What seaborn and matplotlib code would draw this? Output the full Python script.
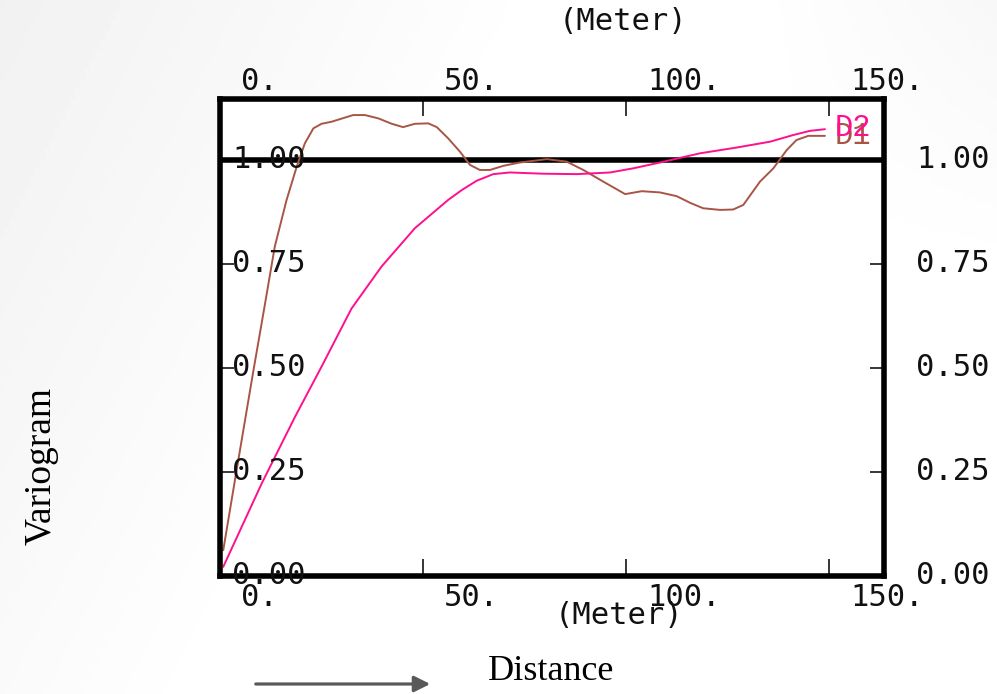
"""Variogram D1 / D2 versus distance, redrawn with seaborn."""
import matplotlib
matplotlib.use("Agg")
import matplotlib.pyplot as plt
import matplotlib.transforms as mtrans
import seaborn as sns
import numpy as np
import pandas as pd

# distance (m) and variogram values
d1_dist = [0.8, 4.1, 8.2, 11.1, 13.5, 16.4, 18.9, 20.9, 23.0, 25.0, 27.5, 32.8, 35.7,
           39.0, 42.3, 45.1, 48.0, 51.3, 53.4, 56.2, 59.1, 61.6, 64.0, 66.5, 69.8,
           73.9, 80.5, 85.4, 89.5, 94.4, 99.8, 103.9, 108.4, 112.5, 115.8, 119.0,
           123.2, 126.4, 128.9, 133.0, 136.3, 139.6, 142.0, 144.9, 149.0]
d1_gamma = [0.062, 0.255, 0.492, 0.655, 0.792, 0.904, 0.984, 1.040, 1.076, 1.087,
            1.092, 1.108, 1.108, 1.100, 1.087, 1.079, 1.087, 1.088, 1.079, 1.052,
            1.020, 0.988, 0.976, 0.976, 0.986, 0.994, 1.002, 0.996, 0.976, 0.948,
            0.918, 0.925, 0.922, 0.913, 0.897, 0.884, 0.880, 0.881, 0.892, 0.948,
            0.980, 1.024, 1.048, 1.058, 1.058]

d2_dist = [0.8, 10.3, 18.5, 25.0, 32.4, 39.8, 48.0, 56.2, 59.6, 63.2, 67.3, 71.4,
           79.6, 87.9, 96.1, 101.8, 108.4, 118.2, 127.3, 135.5, 141.2, 145.3, 149.0]
d2_gamma = [0.022, 0.223, 0.383, 0.503, 0.643, 0.744, 0.836, 0.904, 0.928, 0.950,
            0.966, 0.970, 0.967, 0.966, 0.970, 0.980, 0.994, 1.016, 1.030, 1.044,
            1.060, 1.070, 1.074]

series_names = ["D1", "D2"]
series_colors = ["#a85546", "#ff0f8f"]
x_ticks = [0, 50, 100, 150]
x_labels = ["0.", "50.", "100.", "150."]
y_ticks = [0.0, 0.25, 0.5, 0.75, 1.0]
y_labels = ["0.00", "0.25", "0.50", "0.75", "1.00"]

sns.set_theme(style="white")
plt.rcParams["font.family"] = ["DejaVu Sans Mono", "DejaVu Sans"]

W, H = 997, 694
fig = plt.figure(figsize=(W / 100, H / 100), dpi=100)
fig.patch.set_facecolor("white")

# soft slide background
bg = fig.add_axes([0, 0, 1, 1], zorder=-10)
gx, gy = np.meshgrid(np.linspace(0, 1, 200), np.linspace(0, 1, 140))
shade = 1 - 0.055 * np.clip(1 - (gx + 0.35 * gy) / 0.55, 0, 1) \
          - 0.03 * np.clip((gx - 0.75) / 0.25, 0, 1) * np.clip(1 - gy / 0.4, 0, 1)
bg.imshow(shade, cmap="gray", vmin=0, vmax=1, aspect="auto", extent=[0, 1, 0, 1])
bg.axis("off")

ax = fig.add_axes([220 / W, 1 - 576 / H, 664 / W, 477 / H])
ax.set_facecolor("white")

df = pd.concat([
    pd.DataFrame({"dist": d1_dist, "gamma": d1_gamma, "curve": series_names[0]}),
    pd.DataFrame({"dist": d2_dist, "gamma": d2_gamma, "curve": series_names[1]}),
])
sns.lineplot(data=df, x="dist", y="gamma", hue="curve", palette=series_colors,
             sort=False, estimator=None, linewidth=1.4, legend=False, ax=ax)
for ln in ax.lines:
    ln.set_solid_joinstyle("round")

ax.axhline(1.0, color="black", lw=4, zorder=1)
ax.set_xlim(0, 163.55)
ax.set_ylim(0, 1.1466)
ax.set(xlabel="", ylabel="")

for sp in ax.spines.values():
    sp.set_visible(True)
    sp.set_color("black")
    sp.set_linewidth(4)

ax.set_xticks(x_ticks[1:])
ax.set_yticks(y_ticks[1:-1])
ax.tick_params(axis="x", direction="in", length=12, width=1.1, top=True, bottom=True,
               labelbottom=False, labeltop=False, color="black")
ax.tick_params(axis="y", direction="in", length=10, width=1.1, left=True, right=True,
               labelleft=False, labelright=False, color="black")

# tick labels sit off to the right of their ticks, as in the source
fs = 22
dx = mtrans.ScaledTranslation(21 / 100, 0, fig.dpi_scale_trans)
tx = mtrans.blended_transform_factory(ax.transData, fig.transFigure) + dx
for v, lab in zip(x_ticks, x_labels):
    ax.text(v, 1 - 81 / H, lab, transform=tx, ha="left", va="center", fontsize=fs,
            color="#111111", clip_on=False)
    ax.text(v, 1 - 597 / H, lab, transform=tx, ha="left", va="center", fontsize=fs,
            color="#111111", clip_on=False)

ty = mtrans.blended_transform_factory(fig.transFigure, ax.transData)
for v, lab in zip(y_ticks, y_labels):
    ax.text(232 / W, v, lab, transform=ty, ha="left", va="center", fontsize=fs,
            color="#111111", clip_on=False)
    ax.text(916 / W, v, lab, transform=ty, ha="left", va="center", fontsize=fs,
            color="#111111", clip_on=False)

fig.text(623 / W, 1 - 22 / H, "(Meter)", ha="center", va="center", fontsize=fs,
         color="#111111")
fig.text(619 / W, 1 - 616 / H, "(Meter)", ha="center", va="center", fontsize=fs,
         color="#111111")

# curve names at the line ends
ax.text(151.5, 1.078, series_names[1], color=series_colors[1], fontsize=22,
        family="Liberation Mono", ha="left", va="center", clip_on=False)
ax.text(151.5, 1.058, series_names[0], color=series_colors[0], fontsize=22,
        family="Liberation Mono", ha="left", va="center", clip_on=False, zorder=1)

fig.text(41 / W, 1 - 466 / H, "Variogram", rotation=90, ha="center", va="center",
         fontsize=27, family="Liberation Serif", color="black")
fig.text(551 / W, 1 - 672 / H, "Distance", ha="center", va="center",
         fontsize=26, family="Liberation Serif", color="black")
fig.patches.append(matplotlib.patches.FancyArrowPatch(
    (253 / W, 1 - 684 / H), (433 / W, 1 - 684 / H), transform=fig.transFigure,
    arrowstyle="-|>", mutation_scale=24, lw=2.3, color="#595959"))

fig.savefig("out.png", dpi=100)
